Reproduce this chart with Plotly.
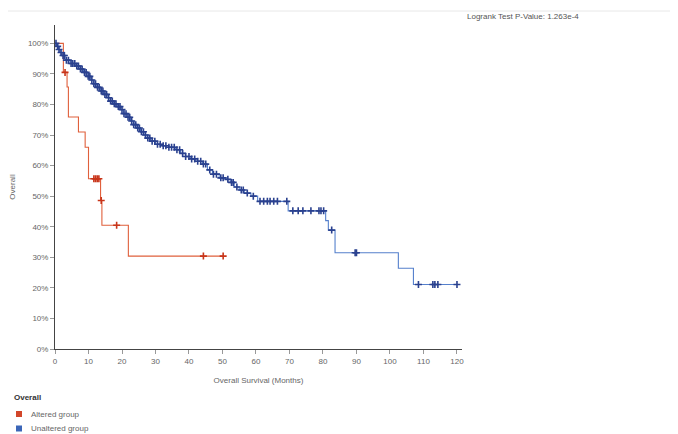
import numpy as np
import plotly.graph_objects as go

# ---------------- data ----------------
red_time = [0, 2.5, 3.6, 4.0, 7.0, 9.0, 10.0, 13.6, 14.0, 21.9, 50.2]
red_surv = [100, 90.5, 85.7, 75.9, 71.0, 66.0, 55.7, 48.6, 40.5, 30.4, 30.4]
red_censor = [3.0, 11.6, 12.1, 12.6, 13.1, 13.8, 18.4, 44.3, 50.2]

blue_time = [0, 0.5, 1.0, 1.5, 2.0, 3.0, 4.5, 6.0, 7.5, 8.5, 9.5, 10.5, 11.5, 12.5,
             13.5, 14.5, 15.5, 16.5, 17.5, 18.5, 19.5, 20.5, 21.5, 22.5, 23.5, 24.5,
             25.5, 26.5, 27.5, 28.5, 30.0, 32.0, 34.0, 36.0, 37.5, 39.0, 40.5, 42.0,
             44.0, 45.5, 47.0, 49.0, 51.0, 52.5, 53.5, 55.0, 56.5, 58.5, 60.5, 69.6,
             80.8, 81.6, 83.6, 102.5, 107.0, 120.4]
blue_surv = [100, 99.0, 98.0, 97.0, 96.0, 94.5, 93.4, 92.6, 91.6, 90.5, 89.2, 88.0, 86.8, 85.6,
             84.4, 83.3, 82.2, 81.1, 80.2, 79.3, 78.3, 77.0, 75.8, 74.6, 73.4, 72.3,
             71.1, 70.0, 69.0, 68.0, 67.0, 66.5, 66.0, 65.2, 64.0, 63.0, 62.2, 61.4,
             60.5, 58.6, 57.2, 56.0, 55.5, 54.5, 53.0, 52.0, 51.0, 50.0, 48.3, 45.2,
             42.0, 38.9, 31.5, 26.4, 21.1, 21.1]
blue_censor = [0.3, 0.8, 1.2, 1.8, 2.4, 2.8, 3.4, 4.0, 4.8, 5.3, 5.9, 6.5, 7.0, 7.6,
               8.1, 8.8, 9.3, 9.9, 10.4, 11.0, 11.6, 12.1, 12.7, 13.2, 13.8, 14.3,
               14.9, 15.4, 16.0, 16.6, 17.1, 17.7, 18.2, 18.9, 19.4, 20.0, 20.6, 21.2,
               21.8, 22.3, 22.9, 23.5, 24.1, 24.7, 25.2, 25.8, 26.4, 27.0, 27.7, 28.3,
               29.0, 29.8, 30.6, 31.4, 32.3, 33.1, 34.0, 34.8, 35.6, 36.4, 37.2, 38.1,
               39.0, 40.0, 40.8, 41.7, 42.6, 43.5, 44.3, 45.0, 46.2, 47.3, 48.2, 49.5,
               50.2, 51.6, 52.7, 53.2, 54.3, 55.6, 56.2, 57.4, 59.2, 61.2, 62.3, 63.4,
               64.2, 65.3, 66.4, 69.2, 71.0, 72.6, 74.0, 76.4, 78.8, 79.4, 80.2, 82.6,
               89.6, 90.0, 108.5, 112.8, 113.4, 114.3, 120.0]

categories = ["Altered group", "Unaltered group"]
legend_title = "Overall"
x_ticks = list(range(0, 121, 10))
y_ticks = list(range(0, 101, 10))
y_ticktext = [f"{v}%" for v in y_ticks]
pvalue_text = "Logrank Test P-Value: 1.263e-4"

RED_LINE, RED_MARK = "#e0603c", "#c8351a"
BLUE_LINE, BLUE_MARK = "#5580cc", "#2a418f"
LEGEND_COLORS = ["#d2462a", "#3b66b8"]


def step_value(times, surv, t):
    idx = np.searchsorted(np.array(times), t, side="right") - 1
    return np.array(surv)[idx]


fig = go.Figure()

for name, times, surv, cens, lc, mc in [
    (categories[0], red_time, red_surv, red_censor, RED_LINE, RED_MARK),
    (categories[1], blue_time, blue_surv, blue_censor, BLUE_LINE, BLUE_MARK),
]:
    fig.add_trace(go.Scatter(x=times, y=surv, mode="lines", name=name,
                             line=dict(color=lc, width=1.1, shape="hv"),
                             showlegend=False, hoverinfo="skip"))
    fig.add_trace(go.Scatter(x=cens, y=step_value(times, surv, cens), mode="markers", name=name,
                             marker=dict(symbol="cross-thin", size=5, line=dict(color=mc, width=1.6)),
                             showlegend=False, hoverinfo="skip"))

# page has an 8px body margin; plot area in window pixels: x 55..462, y 25..349
PW, PH, L, B = 407.0, 324.0, 55.0, 349.0


def px(x):
    return (x - L) / PW


def py(y):
    return (B - y) / PH


shapes = [dict(type="line", xref="paper", yref="paper", x0=px(8), x1=px(678), y0=py(11), y1=py(11),
               line=dict(color="#e8e8e8", width=1))]
annotations = [dict(text=pvalue_text, xref="paper", yref="paper", x=px(465), y=py(17),
                    xanchor="left", yanchor="middle", showarrow=False,
                    font=dict(size=8, color="#555")),
               dict(text=f"<b>{legend_title}</b>", xref="paper", yref="paper", x=px(12), y=py(397),
                    xanchor="left", yanchor="middle", showarrow=False,
                    font=dict(size=8, color="#333"))]
for i, (name, c) in enumerate(zip(categories, LEGEND_COLORS)):
    yc = 414 + 14.5 * i
    shapes.append(dict(type="rect", xref="paper", yref="paper", x0=px(16), x1=px(22),
                       y0=py(yc + 3), y1=py(yc - 3), fillcolor=c, line=dict(width=0)))
    annotations.append(dict(text=name, xref="paper", yref="paper", x=px(29), y=py(yc),
                            xanchor="left", yanchor="middle", showarrow=False,
                            font=dict(size=8, color="#666")))

font_fam = "Liberation Sans, Arial, sans-serif"
fig.update_layout(
    width=670, height=426,
    margin=dict(l=47, r=216, t=17, b=85, autoexpand=False),
    paper_bgcolor="white", plot_bgcolor="white",
    font=dict(family=font_fam, size=8, color="#555"),
    showlegend=False,
    xaxis=dict(range=[0, 121.5], tickvals=x_ticks, showgrid=False, zeroline=False, automargin=False,
               showline=True, linecolor="#444", linewidth=1, ticks="outside", ticklen=4,
               tickcolor="#999", tickfont=dict(size=8, color="#666"),
               title=dict(text="Overall Survival (Months)", font=dict(size=8, color="#666"), standoff=12)),
    yaxis=dict(range=[0, 106], tickvals=y_ticks, ticktext=y_ticktext, showgrid=False, zeroline=False,
               automargin=False, showline=True, linecolor="#444", linewidth=1, ticks="outside", ticklen=4,
               tickcolor="#999", tickfont=dict(size=8, color="#666"),
               title=dict(text="Overall", font=dict(size=8, color="#666"), standoff=20)),
    shapes=shapes,
    annotations=annotations,
)

fig.write_html("out.html")
